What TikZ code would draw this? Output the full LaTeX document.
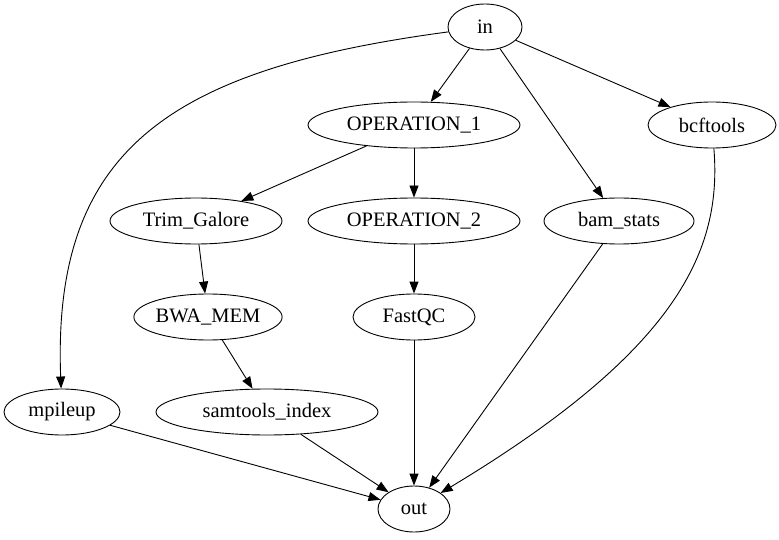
\documentclass[tikz,border=0pt]{standalone}
\usepackage{fontspec}
\setmainfont{Liberation Serif}
\usetikzlibrary{arrows.meta,shapes.geometric}
\begin{document}
\begin{tikzpicture}[x=1pt,y=1pt,
  nd/.style={draw,ellipse,line width=0.9pt,inner sep=0pt,minimum height=46pt,font=\fontsize{20.5}{23}\selectfont},
  ar/.style={line width=0.9pt,-{Triangle[length=12pt,width=9pt]}}]
\useasboundingbox (0,0) rectangle (779,539);
\node[nd,minimum width=74pt]  (in)   at (485,512) {in};
\node[nd,minimum width=212pt] (op1)  at (414,414) {OPERATION\_1};
\node[nd,minimum width=128pt] (bcf)  at (712,414) {bcftools};
\node[nd,minimum width=172pt] (trim) at (196,318) {Trim\_Galore};
\node[nd,minimum width=212pt] (op2)  at (414,318) {OPERATION\_2};
\node[nd,minimum width=150pt] (bam)  at (619,318) {bam\_stats};
\node[nd,minimum width=138pt] (bwa)  at (208,222) {BWA\_MEM};
\node[nd,minimum width=122pt] (fqc)  at (414,222) {FastQC};
\node[nd,minimum width=116pt] (mpi)  at (62,127) {mpileup};
\node[nd,minimum width=222pt] (sam)  at (267,127) {samtools\_index};
\node[nd,minimum width=72pt]  (out)  at (414,30) {out};
\draw[ar] (in) -- (op1);
\draw[ar] (in) -- (bam);
\draw[ar] (in) -- (bcf);
\draw[ar] (in) .. controls (170,470) and (52,390) .. (mpi);
\draw[ar] (op1) -- (trim);
\draw[ar] (op1) -- (op2);
\draw[ar] (trim) -- (bwa);
\draw[ar] (bwa) -- (sam);
\draw[ar] (op2) -- (fqc);
\draw[ar] (fqc) -- (out);
\draw[ar] (bam) -- (out);
\draw[ar] (bcf) .. controls (722,290) and (680,190) .. (out);
\draw[ar] (mpi) -- (out);
\draw[ar] (sam) -- (out);
\end{tikzpicture}
\end{document}
